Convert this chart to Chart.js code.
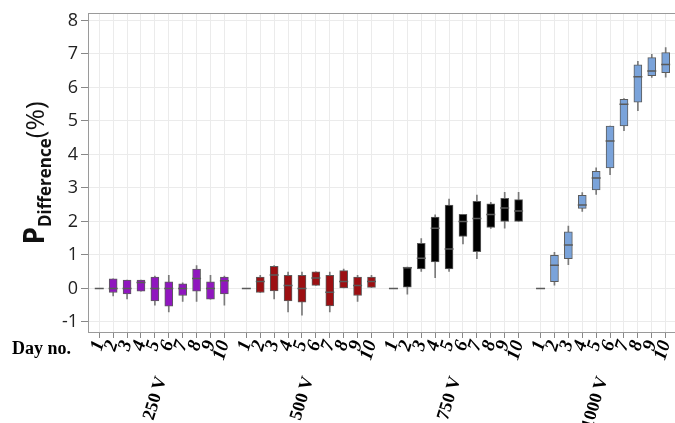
<!DOCTYPE html>
<html>
<head>
<meta charset="utf-8">
<script src="https://cdn.jsdelivr.net/npm/chart.js@4.4.1/dist/chart.umd.min.js"></script>
<style>
html, body { margin: 0; padding: 0; background: #fff; }
#wrap { position: relative; width: 675px; height: 423px; }
#ytitle {
    position: absolute; left: 35px; top: 173px;
    transform: translate(-50%, -50%) rotate(-90deg);
    font-family: 'Open Sans', sans-serif; white-space: nowrap; color: #111;
}
#ytitle sub { font-size: 17px; font-weight: bold; vertical-align: -7px; }
#dayno { position: absolute; left: 12px; top: 338px; font: bold 18px 'Liberation Serif', serif; color: #000; }
</style>
</head>
<body>
<div id="wrap">
<canvas id="chart" width="675" height="423"></canvas>
<div id="ytitle"><b style="font-size:28px">P</b><sub>Difference</sub><span style="font-size:26px">(%)</span></div>
<div id="dayno">Day no.</div>
</div>
<script>
const groups = ['250 V', '500 V', '750 V', '1000 V']
const days = ['1', '2', '3', '4', '5', '6', '7', '8', '9', '10']
const groupColors = ['#9016bf', '#9c0f12', '#000000', '#7aa3da']
const yTicks = [-1, 0, 1, 2, 3, 4, 5, 6, 7, 8]

// one row per group, one value per day
const mins = [
    [0, -0.22, -0.31, -0.08, -0.50, -0.70, -0.39, -0.39, -0.32, -0.50],
    [0, -0.12, -0.31, -0.70, -0.80, 0.09, -0.70, 0.00, -0.39, 0.03],
    [0, -0.17, 0.51, 0.32, 0.51, 1.33, 0.89, 1.79, 1.80, 2.00],
    [0, 0.10, 0.71, 2.30, 2.81, 3.40, 4.71, 5.31, 6.30, 6.31],
]
const q1s = [
    [0, -0.12, -0.16, -0.08, -0.37, -0.53, -0.21, -0.08, -0.32, -0.16],
    [0, -0.12, -0.07, -0.37, -0.41, 0.09, -0.52, 0.00, -0.21, 0.03],
    [0, 0.04, 0.58, 0.79, 0.58, 1.55, 1.10, 1.82, 2.00, 2.00],
    [0, 0.20, 0.89, 2.39, 2.94, 3.60, 4.85, 5.56, 6.35, 6.44],
]
const medians = [
    [0, 0.00, 0.00, 0.18, 0.00, 0.00, 0.00, 0.30, 0.00, 0.23],
    [0, 0.21, 0.40, 0.09, 0.00, 0.31, -0.11, 0.21, 0.09, 0.21],
    [0, 0.62, 0.90, 1.80, 1.18, 2.00, 2.09, 2.21, 2.40, 2.31],
    [0, 0.69, 1.30, 2.49, 3.30, 4.40, 5.50, 6.32, 6.49, 6.69],
]
const q3s = [
    [0, 0.29, 0.25, 0.25, 0.34, 0.20, 0.14, 0.58, 0.20, 0.34],
    [0, 0.34, 0.66, 0.39, 0.39, 0.50, 0.39, 0.53, 0.34, 0.34],
    [0, 0.64, 1.35, 2.13, 2.49, 2.21, 2.60, 2.53, 2.69, 2.65],
    [0, 0.99, 1.69, 2.78, 3.50, 4.85, 5.65, 6.68, 6.89, 7.04],
]
const maxs = [
    [0, 0.29, 0.25, 0.25, 0.37, 0.39, 0.17, 0.68, 0.39, 0.37],
    [0, 0.39, 0.68, 0.49, 0.49, 0.50, 0.49, 0.58, 0.39, 0.39],
    [0, 0.64, 1.49, 2.20, 2.67, 2.21, 2.79, 2.57, 2.87, 2.87],
    [0, 1.08, 1.86, 2.86, 3.60, 4.85, 5.67, 6.78, 6.99, 7.19],
]

const GROUP_STEP = 10.58
const X_MIN = 0.19
const X_MAX = 42.41

function xPos(g, d) {
    return g * GROUP_STEP + d + 1
}

const dayPositions = groups.flatMap((_, g) => days.map((_, d) => xPos(g, d)))
const groupCenters = groups.map((_, g) => xPos(g, 4.5))

function points(values) {
    return values.flatMap((row, g) => row.map((v, d) => ({ x: xPos(g, d), y: v })))
}

const whiskerData = groups.flatMap((_, g) => days.map((_, d) => ({ x: xPos(g, d), y: [mins[g][d], maxs[g][d]] })))

const boxDatasets = groups.map((name, g) => ({
    type: 'bar',
    label: name,
    data: days.map((_, d) => ({ x: xPos(g, d), y: [q1s[g][d], q3s[g][d]] })),
    backgroundColor: groupColors[g],
    borderColor: '#5c5c5c',
    borderWidth: 1,
    borderSkipped: false,
    barThickness: 8,
    grouped: false,
    order: 1,
}))

const noPad = axis => { axis.paddingLeft = 0; axis.paddingRight = 0 }

new Chart(document.getElementById('chart'), {
    type: 'bar',
    data: {
        datasets: [
            {
                type: 'line',
                label: 'Median',
                data: points(medians),
                showLine: false,
                pointStyle: 'line',
                pointRadius: 4.5,
                borderColor: '#5a5a5a',
                borderWidth: 1.5,
                order: 0,
            },
            ...boxDatasets,
            {
                type: 'bar',
                label: 'Range',
                data: whiskerData,
                backgroundColor: '#7a7a7a',
                barThickness: 1,
                grouped: false,
                order: 2,
            },
        ],
    },
    options: {
        responsive: false,
        animation: false,
        layout: { autoPadding: false, padding: { top: 12, right: 0, bottom: 0, left: 0 } },
        plugins: {
            legend: { display: false },
            tooltip: { enabled: false },
        },
        scales: {
            x: {
                type: 'linear',
                position: 'bottom',
                offset: false,
                min: X_MIN,
                max: X_MAX,
                afterBuildTicks: axis => { axis.ticks = dayPositions.map(v => ({ value: v })) },
                afterFit: axis => { axis.height = 33; noPad(axis) },
                ticks: {
                    autoSkip: false,
                    minRotation: 73,
                    maxRotation: 73,
                    padding: 0,
                    color: '#000',
                    font: { family: "'Liberation Serif', serif", weight: 'bold', style: 'italic', size: 19 },
                    callback: (value, index) => days[index % days.length],
                },
                grid: { offset: false, color: '#ebebeb', tickColor: '#888', tickLength: 6 },
                border: { color: '#9a9a9a' },
            },
            xg: {
                type: 'linear',
                position: 'bottom',
                offset: false,
                min: X_MIN,
                max: X_MAX,
                afterBuildTicks: axis => { axis.ticks = groupCenters.map(v => ({ value: v })) },
                afterFit: axis => { axis.height = 58; noPad(axis) },
                ticks: {
                    autoSkip: false,
                    minRotation: 73,
                    maxRotation: 73,
                    padding: 1,
                    color: '#000',
                    font: { family: "'Liberation Serif', serif", weight: 'bold', size: 18 },
                    callback: (value, index) => groups[index],
                },
                grid: { display: false, offset: false },
                border: { display: false },
            },
            xt: {
                type: 'linear',
                position: 'top',
                offset: false,
                min: X_MIN,
                max: X_MAX,
                afterFit: axis => { axis.height = 1; noPad(axis) },
                ticks: { display: false },
                grid: { display: false, drawTicks: false, offset: false },
                border: { color: '#9a9a9a' },
            },
            y: {
                type: 'linear',
                min: -1.3,
                max: 8.2,
                afterBuildTicks: axis => { axis.ticks = yTicks.map(v => ({ value: v })) },
                afterFit: axis => { axis.width = 88 },
                ticks: {
                    padding: 3,
                    color: '#222',
                    font: { family: "'Open Sans', sans-serif", size: 18 },
                },
                grid: { color: '#ebebeb', tickColor: '#888', tickLength: 7 },
                border: { color: '#9a9a9a' },
            },
        },
    },
})
</script>
</body>
</html>
